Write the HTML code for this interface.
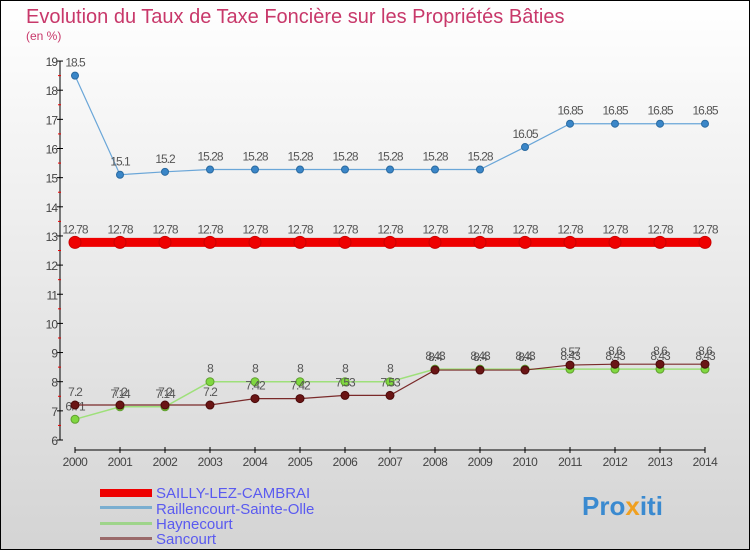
<!DOCTYPE html>
<html><head><meta charset="utf-8"><style>
body{margin:0;width:750px;height:550px;overflow:hidden;font-family:"Liberation Sans",sans-serif}
svg text{font-family:"Liberation Sans",sans-serif}
</style></head><body>
<svg id="c" width="750" height="550" xmlns="http://www.w3.org/2000/svg">
<defs><linearGradient id="bg" x1="0" y1="0" x2="0" y2="1"><stop offset="0" stop-color="#ffffff"/><stop offset="1" stop-color="#d4d4d4"/></linearGradient></defs>
<rect x="0.5" y="0.5" width="749" height="549" fill="url(#bg)" stroke="#000"/>
<text x="26" y="23" font-size="20" fill="#c8386a">Evolution du Taux de Taxe Foncière sur les Propriétés Bâties</text>
<text x="26" y="40" font-size="12" fill="#c8386a">(en %)</text>
<g id="axes"></g><g id="series"></g>
<g>
<rect x="100" y="489" width="52" height="8" fill="#ee0000"/>
<text x="156" y="498" font-size="15" fill="#5a5af0">SAILLY-LEZ-CAMBRAI</text>
<rect x="100" y="506" width="52" height="3" fill="#7aaed0"/>
<text x="156" y="514" font-size="15" fill="#5a5af0">Raillencourt-Sainte-Olle</text>
<rect x="100" y="522" width="52" height="3" fill="#9ed48a"/>
<text x="156" y="529" font-size="15" fill="#5a5af0">Haynecourt</text>
<rect x="100" y="537" width="52" height="3" fill="#9a6a6a"/>
<text x="156" y="544" font-size="15" fill="#5a5af0">Sancourt</text>
</g>
<g><text x="582" y="515" font-size="26" font-weight="bold" fill="#3a8ad0">Pro<tspan fill="#f0a020">x</tspan>iti</text></g>
</svg>
<script>
const years=[2000,2001,2002,2003,2004,2005,2006,2007,2008,2009,2010,2011,2012,2013,2014];
const sailly=[12.78,12.78,12.78,12.78,12.78,12.78,12.78,12.78,12.78,12.78,12.78,12.78,12.78,12.78,12.78];
const raill=[18.5,15.1,15.2,15.28,15.28,15.28,15.28,15.28,15.28,15.28,16.05,16.85,16.85,16.85,16.85];
const hayne=[6.71,7.14,7.14,8,8,8,8,8,8.43,8.43,8.43,8.43,8.43,8.43,8.43];
const sanc=[7.2,7.2,7.2,7.2,7.42,7.42,7.53,7.53,8.4,8.4,8.4,8.57,8.6,8.6,8.6];
const yTicks=[6,7,8,9,10,11,12,13,14,15,16,17,18,19];
const NS="http://www.w3.org/2000/svg";
const X=i=>75+i*45, Y=v=>440-(v-6)*29.15;
function el(t,a,p){const e=document.createElementNS(NS,t);for(const k in a)e.setAttribute(k,a[k]);p.appendChild(e);return e;}
const ax=document.getElementById('axes'), sg=document.getElementById('series');
let yl=el('line',{x1:60,y1:Y(19),x2:60,y2:Y(6),stroke:'#000'},ax);


let xl=el('line',{x1:X(0),y1:450,x2:X(14),y2:450,stroke:'#000'},ax);


yTicks.forEach(v=>{
 el('line',{x1:57,x2:63,y1:Y(v),y2:Y(v),stroke:'#000'},ax);
 if(v<19)el('line',{x1:58,x2:61,y1:Y(v+0.5),y2:Y(v+0.5),stroke:'#e00'},ax);
 const t=el('text',{x:57,y:Y(v)+5,'font-size':12,fill:'#444','text-anchor':'end','letter-spacing':'-1'},ax);
 t.textContent=v;
 
 
});
years.forEach((y,i)=>{
 el('line',{x1:X(i),x2:X(i),y1:447,y2:453,stroke:'#000'},ax);
 const t=el('text',{x:X(i),y:466,'font-size':12,fill:'#444','text-anchor':'middle','letter-spacing':'-0.5'},ax);
 t.textContent=y;
 
 
});
function series(vals,name,col,w,r,dot,dotStroke){
 const g=el('g',{},sg);
 
 
 el('polyline',{points:vals.map((v,i)=>X(i)+','+Y(v)).join(' '),fill:'none',stroke:col,'stroke-width':w},g);
 vals.forEach((v,i)=>{
  const c=el('circle',{cx:X(i),cy:Y(v),r:r,fill:dot,stroke:dotStroke,'stroke-width':1},g);
  
  
  const t=el('text',{x:X(i),y:Y(v)-9,'font-size':12,fill:'#555','text-anchor':'middle','letter-spacing':'-1'},g);
  t.textContent=v;
  
  
 });
}
series(raill,'raillencourt','#6aa6d8',1.2,3.5,'#3a86c8','#2a6aa0');
series(sailly,'sailly','#ee0000',9,6,'#ee0000','#cc0000');
series(hayne,'haynecourt','#9ee07a',1.5,4,'#80d840','#60a030');
series(sanc,'sancourt','#7a2a2a',1.2,4,'#6a1515','#4a0a0a');
</script>
</body></html>
